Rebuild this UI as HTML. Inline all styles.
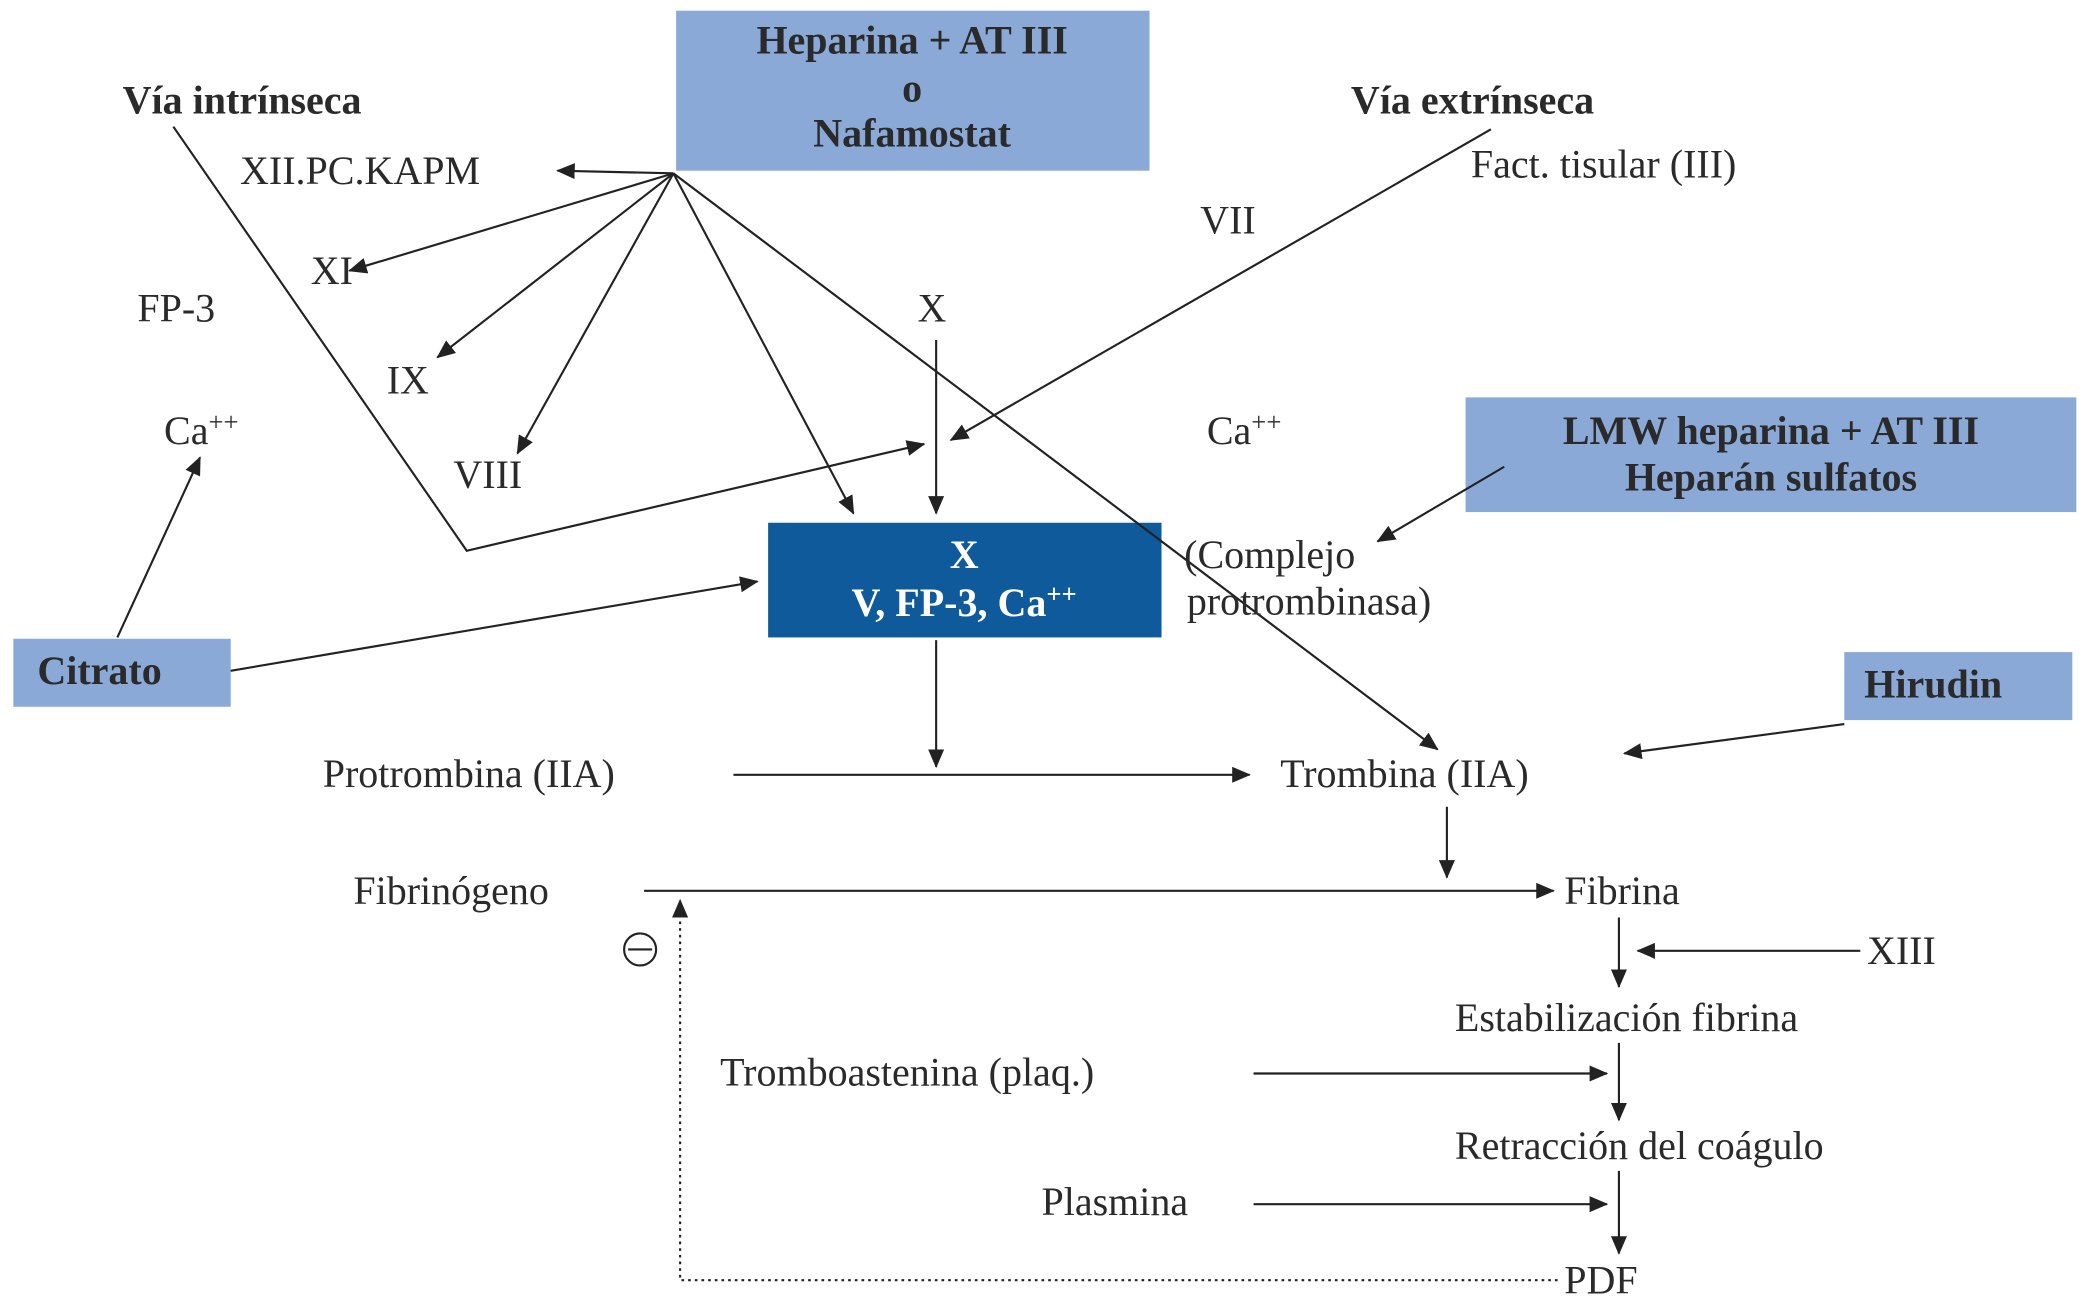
<!DOCTYPE html>
<html><head><meta charset="utf-8"><style>
html,body{margin:0;padding:0;background:#fff;}
svg{display:block}
text{font-family:"Liberation Serif",serif;fill:#2a2a2a;font-size:30px}
.b{font-weight:bold}
.w{fill:#fff;font-weight:bold}
</style></head><body>
<svg width="2091" height="1309" viewBox="0 0 1568 981.6" preserveAspectRatio="none" xmlns="http://www.w3.org/2000/svg">
<defs><marker id="a" markerWidth="10" markerHeight="8" refX="9" refY="4" orient="auto" markerUnits="userSpaceOnUse"><path d="M0,0 L10,4 L0,8z" fill="#222"/></marker>
<marker id="A" markerWidth="14" markerHeight="12" refX="13" refY="6" orient="auto" markerUnits="userSpaceOnUse"><path d="M0,0 L14,6 L0,12z" fill="#222"/></marker></defs>
<rect x="507" y="8" width="355" height="120" fill="#8aa9d6"/>
<rect x="1099" y="298" width="458" height="86" fill="#8aa9d6"/>
<rect x="10" y="479" width="163" height="51" fill="#8aa9d6"/>
<rect x="1383" y="489" width="171" height="51" fill="#8aa9d6"/>
<rect x="576" y="392" width="295" height="86" fill="#0f5a9a"/>
<g stroke="#222" stroke-width="1.6" fill="none">
<line x1="505" y1="130" x2="418" y2="128" marker-end="url(#A)"/>
<line x1="505" y1="130" x2="262" y2="203" marker-end="url(#A)"/>
<line x1="505" y1="130" x2="328" y2="268" marker-end="url(#A)"/>
<line x1="505" y1="130" x2="388" y2="340" marker-end="url(#A)"/>
<line x1="505" y1="130" x2="640" y2="385" marker-end="url(#A)"/>
<line x1="505" y1="130" x2="1078" y2="562" marker-end="url(#A)"/>
<polyline points="130,95 350,413 693,333" marker-end="url(#A)"/>
<line x1="1118" y1="97" x2="713" y2="330" marker-end="url(#A)"/>
<line x1="702" y1="255" x2="702" y2="385" marker-end="url(#A)"/>
<line x1="88" y1="478" x2="150" y2="343" marker-end="url(#A)"/>
<line x1="173" y1="503" x2="568" y2="436" marker-end="url(#A)"/>
<line x1="1128" y1="350" x2="1033" y2="406" marker-end="url(#A)"/>
<line x1="702" y1="480" x2="702" y2="575" marker-end="url(#A)"/>
<line x1="550" y1="581" x2="937" y2="581" marker-end="url(#A)"/>
<line x1="1383" y1="543" x2="1218" y2="565" marker-end="url(#A)"/>
<line x1="1085" y1="605" x2="1085" y2="658" marker-end="url(#A)"/>
<line x1="483" y1="668" x2="1165" y2="668" marker-end="url(#A)"/>
<line x1="1214" y1="688" x2="1214" y2="740" marker-end="url(#A)"/>
<line x1="1395" y1="713" x2="1228" y2="713" marker-end="url(#A)"/>
<line x1="1214" y1="782" x2="1214" y2="840" marker-end="url(#A)"/>
<line x1="940" y1="805" x2="1205" y2="805" marker-end="url(#A)"/>
<line x1="1214" y1="878" x2="1214" y2="940" marker-end="url(#A)"/>
<line x1="940" y1="903" x2="1205" y2="903" marker-end="url(#A)"/>
<polyline points="1168,960 510,960 510,675" stroke-dasharray="2,3" marker-end="url(#A)"/>
<circle cx="480" cy="712" r="12"/><line x1="471" y1="712" x2="489" y2="712"/>
</g>
<g text-anchor="middle" class="b">
<text x="684" y="40" class="b">Heparina + AT III</text>
<text x="684" y="76" class="b">o</text>
<text x="684" y="110" class="b">Nafamostat</text>
<text x="1328" y="333" class="b">LMW heparina + AT III</text>
<text x="1328" y="368" class="b">Heparán sulfatos</text>
<text x="723" y="426" class="w">X</text>
<text x="723" y="462" class="w">V, FP-3, Ca<tspan dy="-10" font-size="20">++</tspan></text>
</g>
<text x="92" y="85" class="b">Vía intrínseca</text>
<text x="1013" y="85" class="b">Vía extrínseca</text>
<text x="28" y="513" class="b">Citrato</text>
<text x="1398" y="523" class="b">Hirudin</text>
<text x="180" y="138">XII.PC.KAPM</text>
<text x="1103" y="133">Fact. tisular (III)</text>
<text x="900" y="175">VII</text>
<text x="233" y="213">XI</text>
<text x="103" y="241">FP-3</text>
<text x="688" y="241">X</text>
<text x="290" y="295">IX</text>
<text x="123" y="333">Ca<tspan dy="-10" font-size="20">++</tspan></text>
<text x="905" y="333">Ca<tspan dy="-10" font-size="20">++</tspan></text>
<text x="340" y="366">VIII</text>
<text x="888" y="426">(Complejo</text>
<text x="890" y="461">protrombinasa)</text>
<text x="242" y="590">Protrombina (IIA)</text>
<text x="960" y="590">Trombina (IIA)</text>
<text x="265" y="678">Fibrinógeno</text>
<text x="1173" y="678">Fibrina</text>
<text x="1400" y="723">XIII</text>
<text x="1091" y="773">Estabilización fibrina</text>
<text x="540" y="814">Tromboastenina (plaq.)</text>
<text x="1091" y="869">Retracción del coágulo</text>
<text x="781" y="911">Plasmina</text>
<text x="1173" y="970">PDF</text>
</svg>
</body></html>
